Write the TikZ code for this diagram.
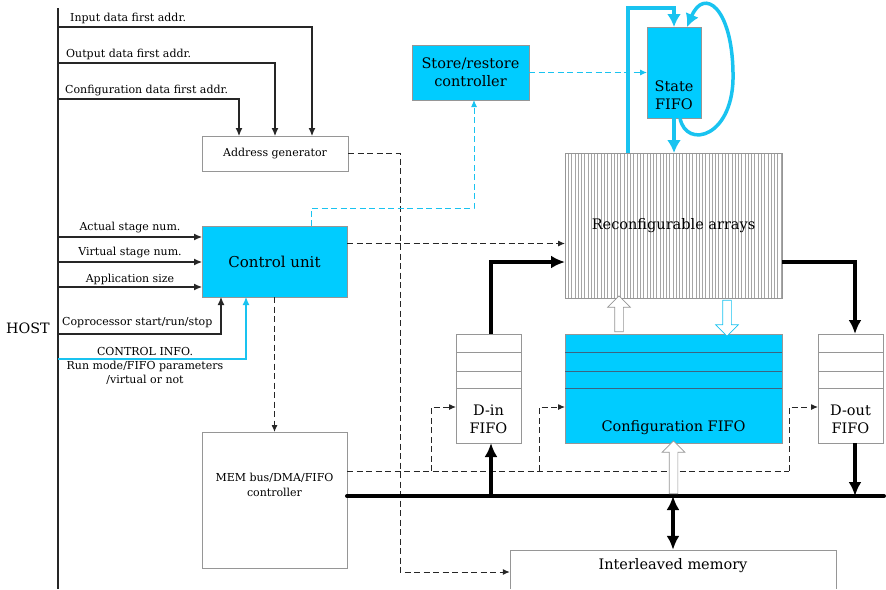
\documentclass[tikz,border=0pt]{standalone}
\usepackage{fontspec}
\setmainfont{DejaVu Serif}
\usetikzlibrary{arrows.meta,calc,shapes.arrows}
\definecolor{cfill}{RGB}{0,204,255}
\definecolor{cline}{RGB}{25,195,240}
\definecolor{bgray}{RGB}{150,150,150}
\definecolor{fline}{RGB}{60,100,130}
\newcommand\mytiny{\fontsize{11}{14.5}\selectfont}
\newcommand\mysmall{\fontsize{11}{14}\selectfont}
\newcommand\mymid{\fontsize{14.5}{18}\selectfont}
\newcommand\mybig{\fontsize{15}{18}\selectfont}
\begin{document}
\begin{tikzpicture}[x=1pt,y=-1pt,
  box/.style={draw=bgray, line width=0.6pt, inner sep=0pt, outer sep=0pt},
  cbox/.style={box, fill=cfill},
  lbl/.style={inner sep=0pt, font=\mysmall},
  arrays/.style={path picture={
     \foreach \i in {1,...,66}{
       \draw[draw=gray!70, line width=0.5pt]
         ([xshift=\i*3.27pt]path picture bounding box.south west) --
         ([xshift=\i*3.27pt]path picture bounding box.north west);}}},
  blk/.style={draw=black!85, line width=1.1pt, -{Latex[length=8pt,width=7pt]}},
  cthin/.style={draw=cline, line width=1.1pt, -{Latex[length=8pt,width=7pt]}},
  dshline/.style={draw=black!85, line width=1pt, dash pattern=on 6pt off 3.5pt},
  dsh/.style={dshline, -{Latex[length=7pt,width=6pt]}},
  cdsh/.style={draw=cline, line width=1pt, dash pattern=on 6pt off 3.5pt, -{Latex[length=7pt,width=6pt]}},
  thk/.style={draw=black, line width=4pt, -{Latex[length=14pt,width=13pt]}},
  cthk/.style={draw=cline, line width=3.5pt, -{Latex[length=13pt,width=14pt]}},
  busline/.style={draw=black, line width=4pt, line cap=round},
  oarr/.style={single arrow, draw=bgray, fill=white, line width=0.7pt, inner sep=4pt,
     single arrow head extend=7pt}
]
\useasboundingbox (0,0) rectangle (886,589);

% boxes
\node[box, minimum width=146pt, minimum height=35pt, font=\mysmall] (addr) at (275,153.5) {Address generator};
\node[cbox, minimum width=145pt, minimum height=71pt, font=\mybig] (ctrl) at (274.5,261.5) {Control unit};
\node[cbox, minimum width=117pt, minimum height=55pt, align=center, font=\mymid] (store) at (470.5,72.5) {Store/restore\\controller};
\node[cbox, minimum width=54pt, minimum height=91pt] (state) at (674,72.5) {};
\node[inner sep=0pt, align=center, font=\mymid] (statelbl) at ($(state.south)+(0,-23)$) {State\\FIFO};
\node[box, arrays, minimum width=217pt, minimum height=145pt, font=\mymid] (arr) at (673.5,225.5) {Reconfigurable arrays};
\node[box, minimum width=65pt, minimum height=109pt] (din) at (488.5,388.5) {};
\node[cbox, minimum width=217pt, minimum height=109pt] (cfg) at (673.5,388.5) {};
\node[box, minimum width=65pt, minimum height=109pt] (dout) at (850.5,388.5) {};
\foreach \d in {18,37,54}{
  \draw[box] ($(din.north west)+(0,\d)$) -- ($(din.north east)+(0,\d)$);
  \draw[box] ($(dout.north west)+(0,\d)$) -- ($(dout.north east)+(0,\d)$);
  \draw[draw=fline, line width=0.6pt] ($(cfg.north west)+(0,\d)$) -- ($(cfg.north east)+(0,\d)$);
}
\node[inner sep=0pt, align=center, font=\mymid] (dinlbl) at ($(din.south)+(0,-24)$) {D-in\\FIFO};
\node[inner sep=0pt, font=\mymid] (cfglbl) at ($(cfg.south)+(0,-15)$) {Configuration FIFO};
\node[inner sep=0pt, align=center, font=\mymid] (doutlbl) at ($(dout.south)+(0,-24)$) {D-out\\FIFO};
\node[box, minimum width=145pt, minimum height=136pt] (mem) at (274.5,500) {};
\node[inner sep=0pt, align=center, font=\mytiny] (memlbl) at ($(mem.center)+(0,-15)$) {MEM bus/DMA/FIFO\\controller};
\node[inner sep=0pt, minimum width=326pt, minimum height=32pt, font=\mymid] (imem) at (673,566) {Interleaved memory};
\draw[box] ($(imem.south west)+(0,7)$) -- (imem.north west) -- (imem.north east) -- ($(imem.south east)+(0,7)$);

% host
\node[inner sep=0pt, font=\fontsize{14.3}{16}\selectfont] (host) at (28,328) {HOST};
\coordinate (htop) at (58,8);
\coordinate (hbot) at (58,589);
\draw[draw=black!85, line width=1.3pt] (htop) -- (hbot);

\coordinate (hA1) at (58,27);
\coordinate (hA2) at (58,63);
\coordinate (hA3) at (58,99);
\draw[blk] (hA1) -| ([xshift=37pt]addr.north);
\draw[blk] (hA2) -| (addr.north);
\draw[blk] (hA3) -| ([xshift=-36pt]addr.north);
\node[lbl, anchor=west] (l1) at (70,18) {Input data first addr.};
\node[lbl, anchor=west] (l2) at (66,54) {Output data first addr.};
\node[lbl, anchor=west] (l3) at (65,91) {Configuration data first addr.};

\coordinate (hB1) at (58,237);
\coordinate (hB2) at (58,262);
\coordinate (hB3) at (58,287);
\draw[blk] (hB1) -- (hB1 -| ctrl.west);
\draw[blk] (hB2) -- (hB2 -| ctrl.west);
\draw[blk] (hB3) -- (hB3 -| ctrl.west);
\node[lbl] (l4) at (130,228) {Actual stage num.};
\node[lbl] (l5) at (130,253) {Virtual stage num.};
\node[lbl] (l6) at (130,279) {Application size};

\coordinate (hC) at (58,334);
\coordinate (hI) at (58,359);
\draw[blk] (hC) -| ([xshift=-53.5pt]ctrl.south);
\draw[cthin] (hI) -| ([xshift=-28.5pt]ctrl.south);
\node[lbl, anchor=west] (l7) at (62,323) {Coprocessor start/run/stop};
\node[lbl, align=center] (l8) at (145,366) {CONTROL INFO.\\Run mode/FIFO parameters\\/virtual or not};

% dashed control
\draw[dsh] (addr.east) -- ++(52,0) |- ([yshift=-6pt]imem.west);
\draw[dsh] (ctrl.south) -- (mem.north);
\coordinate (ctrlR) at ([yshift=18pt]ctrl.east);
\draw[dsh] (ctrlR) -- (ctrlR -| arr.west);
\coordinate (ctrlT) at ([xshift=36.5pt]ctrl.north);
\draw[cdsh] (ctrlT) -- ++(0,-18) -| ([xshift=3.5pt]store.south);
\draw[cdsh] (store.east) -- (store.east -| state.west);

% state fifo
\coordinate (arrT) at ([xshift=-45.5pt]arr.north);
\coordinate (sTop) at ($(state.north)+(0,-19)$);
\draw[cthk] (arrT) |- (sTop) -- (state.north);
\draw[cthk] (state.south) -- (state.south |- arr.north);
\draw[draw=cline, line width=3.5pt, -{Latex[length=13pt,width=14pt]}]
  ([xshift=6pt]state.south) .. controls +(6,32) and +(2,65) .. ([xshift=59pt]state.center)
  .. controls +(-1,-65) and +(17,-40) .. ([xshift=13pt]state.north);

% thick data paths
\coordinate (dinT) at ([xshift=2.5pt]din.north);
\coordinate (arrL) at ([yshift=-36.5pt]arr.west);
\draw[thk] (dinT) |- (arrL);
\coordinate (arrR) at ([yshift=-36.5pt]arr.east);
\coordinate (doutT) at ([xshift=4.5pt]dout.north);
\draw[thk] (arrR) -| (doutT);

% dashed from mem controller
\coordinate (memR) at ([yshift=29pt]mem.east);
\coordinate (j1) at ($(din.west |- memR)+(-25,0)$);
\coordinate (j2) at ($(cfg.west |- memR)+(-26,0)$);
\coordinate (j3) at ($(dout.west |- memR)+(-29,0)$);
\coordinate (dinL) at ([yshift=-18.5pt]din.west);
\coordinate (cfgL) at ([yshift=-18.5pt]cfg.west);
\coordinate (doutL) at ([yshift=-18.5pt]dout.west);
\draw[dshline] (memR) -- (j3);
\draw[dsh] (j1) |- (dinL);
\draw[dsh] (j2) |- (cfgL);
\draw[dsh] (j3) |- (doutL);

% bus
\coordinate (busL) at ([yshift=4pt]mem.east);
\coordinate (busR) at (884,496);
\draw[busline] (busL) -- (busR);
\coordinate (dinB) at ([xshift=2.5pt]din.south);
\draw[thk] (dinB |- busL) -- (dinB);
\coordinate (doutB) at ([xshift=4.5pt]dout.south);
\draw[thk] (doutB) -- (doutB |- busL);
\draw[draw=black, line width=4pt, {Latex[length=14pt,width=13pt]}-{Latex[length=14pt,width=13pt]}] (imem.north |- busL) -- (imem.north);

% open block arrows
\node[oarr, rotate=90, minimum height=36pt] (oa1) at ($(cfg.north)!0.5!(arr.south)+(-54.5,0)$) {};
\node[oarr, draw=cline, rotate=-90, minimum height=36pt] (oa2) at ($(cfg.north)!0.5!(arr.south)+(53.5,0)$) {};
\node[oarr, rotate=90, minimum height=53pt] (oa3) at ($(cfg.south)!0.5!(cfg.south |- busL)$) {};
\end{tikzpicture}
\end{document}
